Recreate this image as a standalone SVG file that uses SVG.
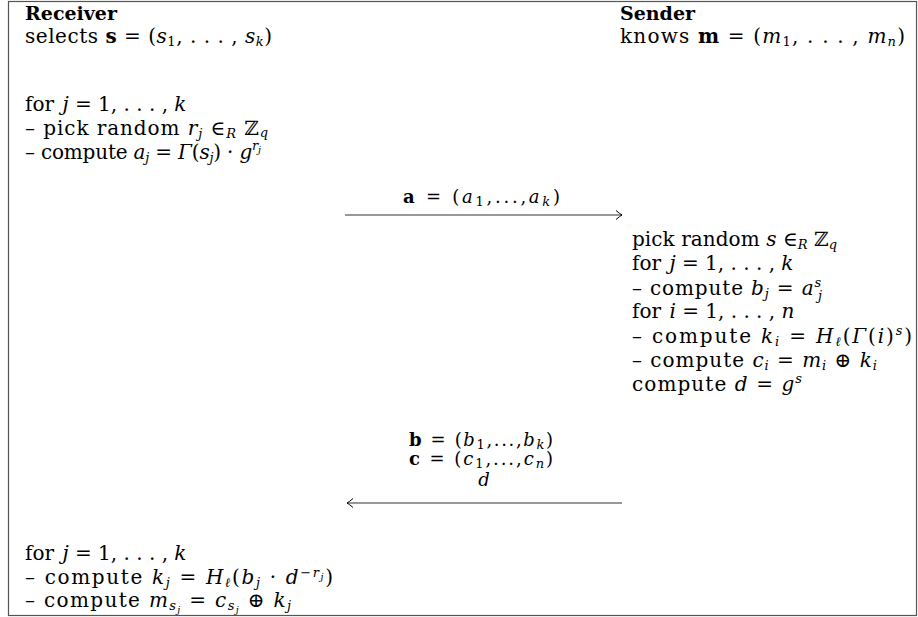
<svg xmlns="http://www.w3.org/2000/svg" width="918" height="617" viewBox="0 0 918 617">
<defs>
<style>
text{font-family:"DejaVu Serif","Liberation Serif",serif;font-size:20px;fill:#000}
.b{font-weight:bold}
.h{font-weight:bold;font-size:19px}
.i{font-style:italic}
.s{font-size:13px}
.t{font-size:9.5px}
.lab{font-size:18px}
.conn{stroke:#333;stroke-width:1.1;fill:none}
</style>
<marker id="tip" viewBox="-8 -5 10 10" refX="0" refY="0" markerWidth="10" markerHeight="10" markerUnits="userSpaceOnUse" orient="auto">
<path d="M -6 -4.5 Q -2 -1 0 0 Q -2 1 -6 4.5" fill="none" stroke="#000" stroke-width="1"/>
</marker>
</defs>
<rect x="8.5" y="1.5" width="908" height="614" fill="#fff" stroke="#555" stroke-width="1.2"/>

<g id="receiver-init">
<text x="25" y="20" class="h">Receiver</text>
<text x="25" y="43" textLength="247" lengthAdjust="spacing">selects <tspan class="b">s</tspan> = (<tspan class="i">s</tspan><tspan class="s" dy="3">1</tspan><tspan dy="-3">, . . . , </tspan><tspan class="i">s</tspan><tspan class="s i" dy="3">k</tspan><tspan dy="-3">)</tspan></text>
<text x="25" y="111">for <tspan class="i" dx="2">j</tspan> = 1, . . . , <tspan class="i">k</tspan></text>
<text x="25" y="135" textLength="243" lengthAdjust="spacing">– pick random <tspan class="i">r</tspan><tspan class="s i" dy="3">j</tspan><tspan dy="-3"> ∈</tspan><tspan class="s i" dy="3">R</tspan><tspan dy="-3"> ℤ</tspan><tspan class="s i" dy="2">q</tspan></text>
<text x="25" y="159" textLength="236" lengthAdjust="spacing">– compute <tspan class="i">a</tspan><tspan class="s i" dy="3">j</tspan><tspan dy="-3"> = </tspan><tspan class="i">Γ</tspan>(<tspan class="i">s</tspan><tspan class="s i" dy="3">j</tspan><tspan dy="-3">) · </tspan><tspan class="i">g</tspan><tspan class="s i" dy="-9">r</tspan><tspan class="t i" dy="3">j</tspan></text>
</g>

<g id="sender-init">
<text x="620" y="20" class="h">Sender</text>
<text x="620" y="43" textLength="285" lengthAdjust="spacing">knows <tspan class="b">m</tspan> = (<tspan class="i">m</tspan><tspan class="s" dy="3">1</tspan><tspan dy="-3">, . . . , </tspan><tspan class="i">m</tspan><tspan class="s i" dy="3">n</tspan><tspan dy="-3">)</tspan></text>
</g>

<g id="sender-compute">
<text x="632" y="246" textLength="205" lengthAdjust="spacing">pick random <tspan class="i">s</tspan> ∈<tspan class="s i" dy="3">R</tspan><tspan dy="-3"> ℤ</tspan><tspan class="s i" dy="3">q</tspan></text>
<text x="632" y="270">for <tspan class="i" dx="2">j</tspan> = 1, . . . , <tspan class="i">k</tspan></text>
<text x="632" y="295" textLength="190" lengthAdjust="spacing">– compute <tspan class="i">b</tspan><tspan class="s i" dy="3">j</tspan><tspan dy="-3"> = </tspan><tspan class="i">a</tspan><tspan class="s i" dy="-8">s</tspan><tspan class="s i" dx="-4" dy="13">j</tspan></text>
<text x="632" y="318">for <tspan class="i" dx="2">i</tspan> = 1, . . . , <tspan class="i">n</tspan></text>
<text x="632" y="343" textLength="280" lengthAdjust="spacing">– compute <tspan class="i">k</tspan><tspan class="s i" dy="3">i</tspan><tspan dy="-3"> = </tspan><tspan class="i">H</tspan><tspan class="s i" dy="3">ℓ</tspan><tspan dy="-3">(</tspan><tspan class="i">Γ</tspan>(<tspan class="i">i</tspan>)<tspan class="s i" dy="-8">s</tspan><tspan dy="8">)</tspan></text>
<text x="632" y="367" textLength="245" lengthAdjust="spacing">– compute <tspan class="i">c</tspan><tspan class="s i" dy="3">i</tspan><tspan dy="-3"> = </tspan><tspan class="i">m</tspan><tspan class="s i" dy="3">i</tspan><tspan dy="-3"> ⊕ </tspan><tspan class="i">k</tspan><tspan class="s i" dy="3">i</tspan></text>
<text x="632" y="391" textLength="170" lengthAdjust="spacing">compute <tspan class="i">d</tspan> = <tspan class="i">g</tspan><tspan class="s i" dy="-8">s</tspan></text>
</g>

<g id="receiver-final">
<text x="25" y="560">for <tspan class="i" dx="2">j</tspan> = 1, . . . , <tspan class="i">k</tspan></text>
<text x="25" y="584" textLength="308" lengthAdjust="spacing">– compute <tspan class="i">k</tspan><tspan class="s i" dy="3">j</tspan><tspan dy="-3"> = </tspan><tspan class="i">H</tspan><tspan class="s i" dy="3">ℓ</tspan><tspan dy="-3">(</tspan><tspan class="i">b</tspan><tspan class="s i" dy="3">j</tspan><tspan dy="-3"> · </tspan><tspan class="i">d</tspan><tspan class="s" dy="-7">−</tspan><tspan class="s i">r</tspan><tspan class="t i" dy="3">j</tspan><tspan dy="4">)</tspan></text>
<text x="25" y="607" textLength="266" lengthAdjust="spacing">– compute <tspan class="i">m</tspan><tspan class="s i" dy="3">s</tspan><tspan class="t i" dy="3">j</tspan><tspan dy="-6"> = </tspan><tspan class="i">c</tspan><tspan class="s i" dy="3">s</tspan><tspan class="t i" dy="3">j</tspan><tspan dy="-6"> ⊕ </tspan><tspan class="i">k</tspan><tspan class="s i" dy="3">j</tspan></text>
</g>

<g id="connectors">
<line class="conn" x1="345" y1="215" x2="622" y2="215" marker-end="url(#tip)"/>
<text class="lab" x="481.5" y="203" text-anchor="middle" textLength="157" lengthAdjust="spacing"><tspan class="b">a</tspan> = (<tspan class="i">a</tspan><tspan class="s" dy="3">1</tspan><tspan dy="-3">,...,</tspan><tspan class="i">a</tspan><tspan class="s i" dy="3">k</tspan><tspan dy="-3">)</tspan></text>
<line class="conn" x1="622" y1="503" x2="347" y2="503" marker-end="url(#tip)"/>
<text class="lab" x="481" y="446" text-anchor="middle" textLength="144" lengthAdjust="spacing"><tspan class="b">b</tspan> = (<tspan class="i">b</tspan><tspan class="s" dy="3">1</tspan><tspan dy="-3">,...,</tspan><tspan class="i">b</tspan><tspan class="s i" dy="3">k</tspan><tspan dy="-3">)</tspan></text>
<text class="lab" x="481" y="465" text-anchor="middle" textLength="144" lengthAdjust="spacing"><tspan class="b">c</tspan> = (<tspan class="i">c</tspan><tspan class="s" dy="3">1</tspan><tspan dy="-3">,...,</tspan><tspan class="i">c</tspan><tspan class="s i" dy="3">n</tspan><tspan dy="-3">)</tspan></text>
<text class="lab i" x="484" y="486" text-anchor="middle">d</text>
</g>
</svg>
